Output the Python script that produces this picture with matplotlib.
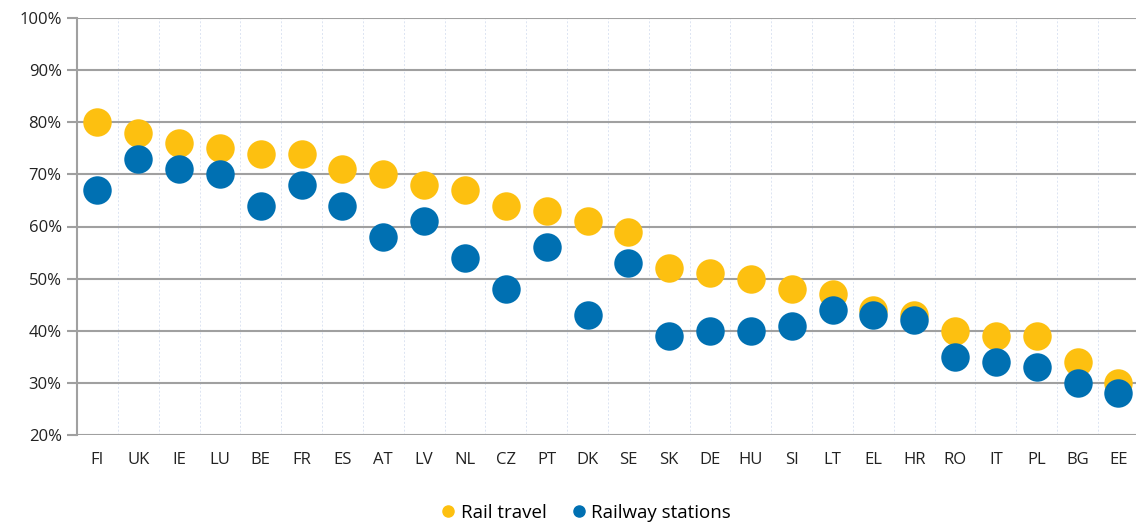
import matplotlib
matplotlib.use("Agg")
import matplotlib.pyplot as plt
from matplotlib.lines import Line2D

countries = ["FI","UK","IE","LU","BE","FR","ES","AT","LV","NL","CZ","PT","DK","SE",
             "SK","DE","HU","SI","LT","EL","HR","RO","IT","PL","BG","EE"]
rail_travel = [80,78,76,75,74,74,71,70,68,67,64,63,61,59,52,51,50,48,47,44,43,40,39,39,34,30]
railway_stations = [67,73,71,70,64,68,64,58,61,54,48,56,43,53,39,40,40,41,44,43,42,35,34,33,30,28]
yticks = [20,30,40,50,60,70,80,90,100]

YEL = "#FDC010"
BLU = "#0070B2"

plt.rcParams['font.family'] = ['Open Sans', 'DejaVu Sans']
fig = plt.figure(figsize=(11.36, 5.24), dpi=100)
ax = fig.add_axes([77/1136, 1-435/524, 1-77/1136, (435-18)/524])

x = list(range(len(countries)))
ax.scatter(x, rail_travel, s=420, color=YEL, zorder=3, linewidths=0)
ax.scatter(x, railway_stations, s=420, color=BLU, zorder=4, linewidths=0)

ax.set_ylim(20, 100)
ax.set_xlim(-0.5, len(countries) - 0.57)
ax.set_yticks(yticks)
ax.set_yticklabels([f"{v}%" for v in yticks], fontsize=12, color="#222222")
ax.set_xticks(x)
ax.set_xticklabels(countries, fontsize=12, color="#222222")
ax.tick_params(axis='x', length=0, pad=12)
ax.tick_params(axis='y', length=7, width=1.5, color="#A0A0A0", pad=4)

for v in yticks:
    ax.axhline(v, color="#A0A0A0", lw=1.5, zorder=1)
for b in range(1, len(countries)):
    ax.axvline(b - 0.5, color="#DCE4F2", lw=0.7, ls=(0, (2, 2)), zorder=0.5)

for s in ["top", "right", "bottom"]:
    ax.spines[s].set_visible(False)
ax.spines["left"].set_color("#A0A0A0")
ax.spines["left"].set_linewidth(1.5)

handles = [Line2D([], [], marker='o', ls='', color=YEL, markersize=8, label="Rail travel"),
           Line2D([], [], marker='o', ls='', color=BLU, markersize=8, label="Railway stations")]
fig.legend(handles=handles, loc='center', bbox_to_anchor=(0.513, 1-513/524), ncol=2,
           frameon=False, fontsize=13.5, handletextpad=-0.1, handlelength=1.5, columnspacing=1.0)

fig.savefig("out.png", dpi=100)
